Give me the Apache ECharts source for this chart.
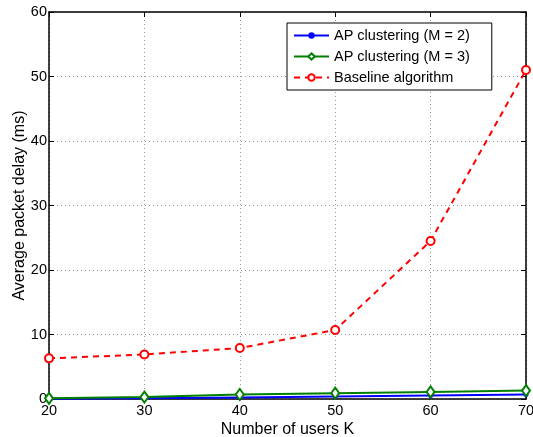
<!DOCTYPE html>
<html lang="en">
<head>
    <meta charset="UTF-8">
    <title>delay</title>
    <script src="https://cdn.jsdelivr.net/npm/echarts@6/dist/echarts.min.js"></script>
    <style>
        html, body { margin: 0; padding: 0; background: #fff; }
        #chart { width: 533px; height: 437px; }
    </style>
</head>
<body>
<div id="chart"></div>
<script>
    var users = [20, 30, 40, 50, 60, 70];
    var apM2 = [0.05, 0.1, 0.25, 0.4, 0.55, 0.7];
    var apM3 = [0.1, 0.3, 0.7, 0.9, 1.1, 1.3];
    var baseline = [6.3, 6.9, 7.9, 10.7, 24.5, 51];
    var seriesNames = ['AP clustering (M = 2)', 'AP clustering (M = 3)', 'Baseline algorithm'];

    function pairs(vals) {
        return users.map(function (u, i) { return [u, vals[i]]; });
    }

    var font = 'Liberation Sans, Arial, sans-serif';
    var gridLine = { show: true, lineStyle: { color: '#999', type: [1, 3], width: 1 } };
    var tick = { show: true, inside: true, length: 5, lineStyle: { color: '#000' } };
    var axLine = { show: true, onZero: false, lineStyle: { color: '#000', width: 1.5 } };

    var myChart = echarts.init(document.getElementById('chart'));
    myChart.setOption({
        animation: false,
        grid: {
            left: 49, right: 7, top: 12, bottom: 38,
            outerBoundsMode: 'none', containLabel: false
        },
        legend: {
            data: seriesNames,
            orient: 'vertical',
            left: 287, top: 23,
            itemWidth: 35, itemHeight: 8, itemGap: 6,
            padding: [5, 22, 5, 6],
            backgroundColor: '#fff',
            borderColor: '#000', borderWidth: 1,
            textStyle: { fontFamily: font, fontSize: 14.5, color: '#000' }
        },
        xAxis: [{
            type: 'value', min: 20, max: 70, interval: 10,
            name: 'Number of users K', nameLocation: 'middle', nameGap: 23,
            nameMoveOverlap: false,
            nameTextStyle: { fontFamily: font, fontSize: 16, color: '#000' },
            axisLine: axLine, axisTick: tick,
            axisLabel: { fontFamily: font, fontSize: 14.5, color: '#000', margin: 4 },
            splitLine: gridLine
        }, {
            type: 'value', position: 'top', min: 20, max: 70, interval: 10,
            axisLine: axLine, axisTick: tick,
            axisLabel: { show: false }, splitLine: { show: false }
        }],
        yAxis: [{
            type: 'value', min: 0, max: 60, interval: 10,
            name: 'Average packet delay (ms)', nameLocation: 'middle', nameGap: 21,
            nameMoveOverlap: false,
            nameTextStyle: { fontFamily: font, fontSize: 16, color: '#000' },
            axisLine: axLine, axisTick: tick,
            axisLabel: { fontFamily: font, fontSize: 14.5, color: '#000', margin: 2 },
            splitLine: gridLine
        }, {
            type: 'value', position: 'right', min: 0, max: 60, interval: 10,
            axisLine: axLine, axisTick: tick,
            axisLabel: { show: false }, splitLine: { show: false }
        }],
        series: [{
            name: seriesNames[0], type: 'line', data: pairs(apM2),
            symbol: 'circle', symbolSize: 5, color: '#0000ff',
            lineStyle: { width: 2, color: '#0000ff' },
            itemStyle: { color: '#0000ff' }
        }, {
            name: seriesNames[1], type: 'line', data: pairs(apM3),
            symbol: 'emptyDiamond', symbolSize: [8, 11], color: '#008000',
            lineStyle: { width: 2, color: '#008000' },
            itemStyle: { color: '#008000', borderWidth: 1.5 }
        }, {
            name: seriesNames[2], type: 'line', data: pairs(baseline),
            symbol: 'emptyCircle', symbolSize: 8, color: '#ff0000',
            lineStyle: { width: 2, color: '#ff0000', type: [6, 5] },
            itemStyle: { color: '#ff0000', borderWidth: 1.5 }
        }]
    });
</script>
</body>
</html>
